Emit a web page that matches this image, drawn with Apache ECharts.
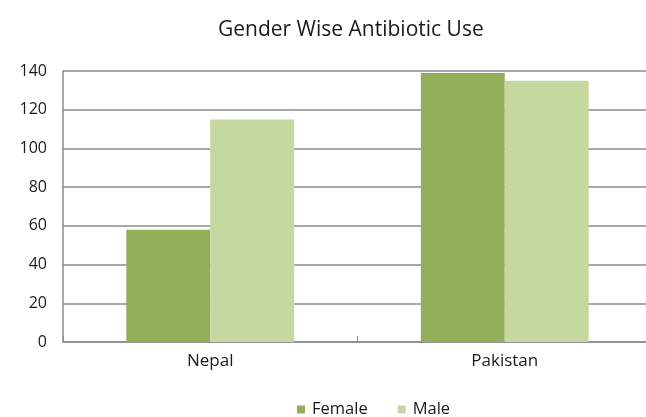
<!DOCTYPE html>
<html>
<head>
<meta charset="utf-8">
<script src="https://cdn.jsdelivr.net/npm/echarts@6/dist/echarts.min.js"></script>
<style>html,body{margin:0;padding:0;background:#fff}#c{width:646px;height:417px}</style>
</head>
<body>
<div id="c"></div>
<script>
const categories = ['Nepal', 'Pakistan'];
const femaleValues = [58, 139];
const maleValues = [115, 135];
const yTicks = { min: 0, max: 140, interval: 20 };

const chart = echarts.init(document.getElementById('c'), null, { renderer: 'canvas' });
const font = '"Open Sans", "Noto Sans", sans-serif';
chart.setOption({
  animation: false,
  backgroundColor: '#fff',
  title: {
    text: 'Gender Wise Antibiotic Use',
    left: 213, top: 15,
    textStyle: { fontFamily: font, fontSize: 21, fontWeight: 'normal', color: '#1a1a1a' }
  },
  legend: {
    left: 292, top: 396,
    icon: 'rect', itemWidth: 8, itemHeight: 8, itemGap: 30,
    textStyle: { fontFamily: font, fontSize: 16.5, color: '#1a1a1a', padding: [0, 0, 0, 2] },
    data: ['Female', 'Male']
  },
  grid: { left: 63, width: 589, top: 71, bottom: 75, containLabel: false, outerBoundsMode: 'none' },
  xAxis: {
    type: 'category',
    data: categories,
    axisLine: { lineStyle: { color: '#8c8c8c', width: 1.5 } },
    axisTick: { show: true, inside: true, length: 6, lineStyle: { color: '#8c8c8c' } },
    axisLabel: { fontFamily: font, fontSize: 17, color: '#1a1a1a', margin: 11 }
  },
  yAxis: {
    type: 'value',
    min: yTicks.min, max: yTicks.max, interval: yTicks.interval,
    axisLine: { show: true, lineStyle: { color: '#8c8c8c', width: 1.5 } },
    axisTick: { show: false },
    axisLabel: { fontFamily: font, fontSize: 16, color: '#1a1a1a', margin: 16 },
    splitLine: { lineStyle: { color: '#8c8c8c', width: 1.5 } }
  },
  series: [
    { name: 'Female', type: 'bar', data: femaleValues, barGap: '0%', barCategoryGap: '43%',
      itemStyle: { color: '#93AF5A' } },
    { name: 'Male', type: 'bar', data: maleValues, barGap: '0%', barCategoryGap: '43%',
      itemStyle: { color: '#C4D8A0' } }
  ]
});
</script>
</body>
</html>
